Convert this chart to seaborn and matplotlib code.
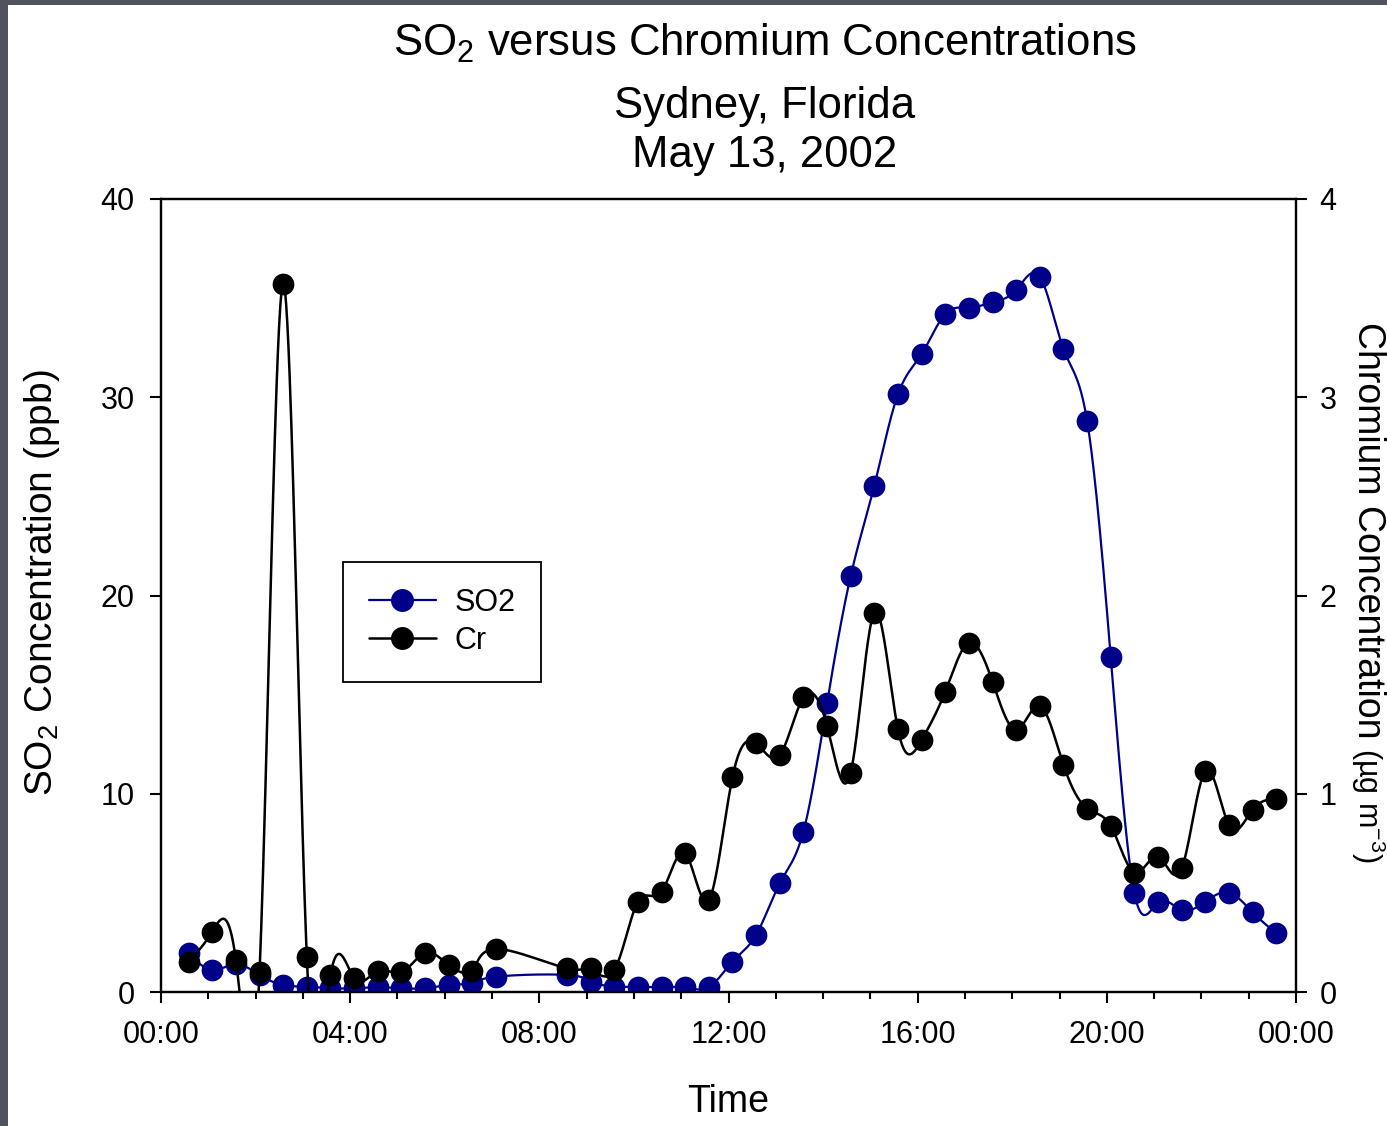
import numpy as np
import pandas as pd
import matplotlib
matplotlib.use("Agg")
import matplotlib.pyplot as plt
import seaborn as sns
from matplotlib.lines import Line2D
from matplotlib.patches import Rectangle

# ---------------- data ----------------
times = ["00:35", "01:05", "01:35", "02:05", "02:35", "03:05", "03:35", "04:05",
         "04:35", "05:05", "05:35", "06:05", "06:35", "07:05",
         "08:35", "09:05", "09:35", "10:05", "10:35", "11:05", "11:35", "12:05",
         "12:35", "13:05", "13:35", "14:05", "14:35", "15:05", "15:35", "16:05",
         "16:35", "17:05", "17:35", "18:05", "18:35", "19:05", "19:35", "20:05",
         "20:35", "21:05", "21:35", "22:05", "22:35", "23:05", "23:35"]

so2 = [1.95, 1.11, 1.40, 0.86, 0.35, 0.27, 0.19, 0.19, 0.24, 0.19, 0.19, 0.35, 0.44, 0.77,
       0.86, 0.52, 0.27, 0.27, 0.24, 0.24, 0.24, 1.53, 2.88, 5.48, 8.09, 14.56, 20.98,
       25.54, 30.15, 32.17, 34.20, 34.52, 34.79, 35.41, 36.08, 32.43, 28.80, 16.88,
       4.98, 4.52, 4.14, 4.56, 5.01, 4.02, 2.96]

cr = [0.153, 0.304, 0.161, 0.102, 3.571, 0.178, 0.086, 0.071, 0.107, 0.099, 0.198, 0.136,
      0.107, 0.217, 0.119, 0.119, 0.111, 0.455, 0.506, 0.700, 0.464, 1.083, 1.254, 1.195,
      1.486, 1.342, 1.106, 1.913, 1.325, 1.271, 1.515, 1.762, 1.565, 1.322, 1.444, 1.145,
      0.925, 0.837, 0.602, 0.683, 0.624, 1.115, 0.842, 0.920, 0.972]

xtick_labels = ["00:00", "04:00", "08:00", "12:00", "16:00", "20:00", "00:00"]
series_names = ["SO2", "Cr"]


def to_hours(t):
    h, m = t.split(":")
    return int(h) + int(m) / 60.0


def natural_spline_eval(p, v, n=40):
    """Natural cubic spline of v over parameter p, evaluated densely."""
    p = np.asarray(p, float)
    v = np.asarray(v, float)
    N = len(p)
    h = np.diff(p)
    A = np.zeros((N, N))
    r = np.zeros(N)
    A[0, 0] = A[-1, -1] = 1.0
    for i in range(1, N - 1):
        A[i, i - 1] = h[i - 1]
        A[i, i] = 2 * (h[i - 1] + h[i])
        A[i, i + 1] = h[i]
        r[i] = 6 * ((v[i + 1] - v[i]) / h[i] - (v[i] - v[i - 1]) / h[i - 1])
    M = np.linalg.solve(A, r)
    out = []
    for i in range(N - 1):
        t = np.linspace(0, 1, n, endpoint=(i == N - 2))
        a = 1 - t
        b = t
        out.append(a * v[i] + b * v[i + 1]
                   + ((a ** 3 - a) * M[i] + (b ** 3 - b) * M[i + 1]) * h[i] ** 2 / 6)
    return np.concatenate(out)


def parametric_spline(x, y, n=40):
    t = np.arange(len(x), dtype=float)
    return natural_spline_eval(t, x, n), natural_spline_eval(t, y, n)


hours = [to_hours(t) for t in times]
df = pd.DataFrame({"hour": hours, "SO2": so2, "Cr": cr})
sx, sy = parametric_spline(df["hour"], df["SO2"])
cx, cy = parametric_spline(df["hour"], df["Cr"])
so2_curve = pd.DataFrame({"hour": sx, "val": sy})
cr_curve = pd.DataFrame({"hour": cx, "val": cy})

# ---------------- style ----------------
sns.set_style("ticks")
plt.rcParams["font.family"] = ["Liberation Sans", "DejaVu Sans"]
plt.rcParams["mathtext.fontset"] = "custom"
plt.rcParams["mathtext.rm"] = "Liberation Sans"
plt.rcParams["mathtext.it"] = "Liberation Sans:italic"
plt.rcParams["mathtext.bf"] = "Liberation Sans:bold"
plt.rcParams["text.color"] = "black"
plt.rcParams["xtick.color"] = "black"
plt.rcParams["ytick.color"] = "black"
plt.rcParams["axes.labelcolor"] = "black"

W, H = 1387, 1126
fig = plt.figure(figsize=(W / 100, H / 100), dpi=100)
fig.patch.set_facecolor("white")

# slide border (top and left)
border = "#50535f"
fig.patches.append(Rectangle((0, 1 - 5 / H), 1, 5 / H, transform=fig.transFigure,
                             facecolor=border, edgecolor="none", zorder=0))
fig.patches.append(Rectangle((0, 0), 8 / W, 1, transform=fig.transFigure,
                             facecolor=border, edgecolor="none", zorder=0))

ax = fig.add_axes([161 / W, 1 - 992 / H, 1135 / W, 793 / H])
ax2 = ax.twinx()

blue = "#00008b"
black = "#000000"

sns.lineplot(data=so2_curve, x="hour", y="val", ax=ax, color=blue, linewidth=1.6,
             sort=False, estimator=None)
sns.scatterplot(data=df, x="hour", y="SO2", ax=ax, color=blue, s=245,
                edgecolor=blue, linewidth=0, zorder=3)
sns.lineplot(data=cr_curve, x="hour", y="val", ax=ax2, color=black, linewidth=1.8,
             sort=False, estimator=None)
sns.scatterplot(data=df, x="hour", y="Cr", ax=ax2, color=black, s=245,
                edgecolor=black, linewidth=0, zorder=3)

ax.set_xlim(0, 24)
ax.set_ylim(0, 40)
ax2.set_ylim(0, 4)
ax.set_xticks(np.arange(0, 25, 4))
ax.set_xticklabels(xtick_labels)
ax.set_xticks(np.arange(0, 25, 1), minor=True)
ax.set_yticks(np.arange(0, 41, 10))
ax2.set_yticks(np.arange(0, 5, 1))

for a in (ax, ax2):
    for sp in a.spines.values():
        sp.set_visible(True)
        sp.set_color("black")
        sp.set_linewidth(1.6)

ax.tick_params(axis="x", which="major", direction="out", length=8, width=1.5,
               labelsize=22, pad=12, color="black", labelcolor="black",
               bottom=True, top=False)
ax.tick_params(axis="x", which="minor", direction="out", length=5, width=1.5,
               color="black", bottom=True, top=False)
ax.tick_params(axis="y", which="major", direction="out", length=8, width=1.5,
               labelsize=22, pad=11, color="black", labelcolor="black",
               left=True, right=False)
ax2.tick_params(axis="y", which="major", direction="out", length=8, width=1.5,
                labelsize=22, pad=9, color="black", labelcolor="black",
                right=True, left=False)

ax.set_xlabel("")
ax.set_ylabel("")
ax2.set_ylabel("")

# titles
fig.text(765 / W, 1 - 56 / H, r"SO$_{\mathregular{2}}$ versus Chromium Concentrations",
         ha="center", va="baseline", fontsize=31.5, color="black")
fig.text(765 / W, 1 - 118 / H, "Sydney, Florida", ha="center", va="baseline",
         fontsize=31.5, color="black")
fig.text(765 / W, 1 - 167 / H, "May 13, 2002", ha="center", va="baseline",
         fontsize=31.5, color="black")

# axis labels
fig.text(42 / W, 1 - 583 / H, r"SO$_{\mathregular{2}}$ Concentration (ppb)",
         rotation=90, ha="center", va="center", fontsize=28, color="black")
fig.text(728 / W, 1 - 1102 / H, "Time", ha="center", va="center", fontsize=27,
         color="black")
fig.text(1368 / W, 1 - 322 / H, "Chromium Concentration", rotation=270,
         ha="center", va="top", fontsize=27, color="black")
fig.text(1368 / W, 1 - 748 / H, r"(µg m$^{\mathregular{-3}}$)", rotation=270,
         ha="center", va="top", fontsize=22, color="black")

# legend
handles = [Line2D([0], [0], color=blue, lw=1.6, marker="o", markersize=15.5,
                  markerfacecolor=blue, markeredgecolor=blue),
           Line2D([0], [0], color=black, lw=1.8, marker="o", markersize=15.5,
                  markerfacecolor=black, markeredgecolor=black)]
leg = ax2.legend(handles, series_names, loc="upper left", bbox_to_anchor=(0.160, 0.542),
                 fontsize=22, frameon=True, fancybox=False, framealpha=1,
                 edgecolor="black", borderpad=0.85, labelspacing=0.25,
                 handlelength=2.2, handletextpad=0.6, borderaxespad=0)
leg.get_frame().set_linewidth(1.3)
for txt in leg.get_texts():
    txt.set_color("black")

fig.savefig("out.png", dpi=100, facecolor=fig.get_facecolor())
